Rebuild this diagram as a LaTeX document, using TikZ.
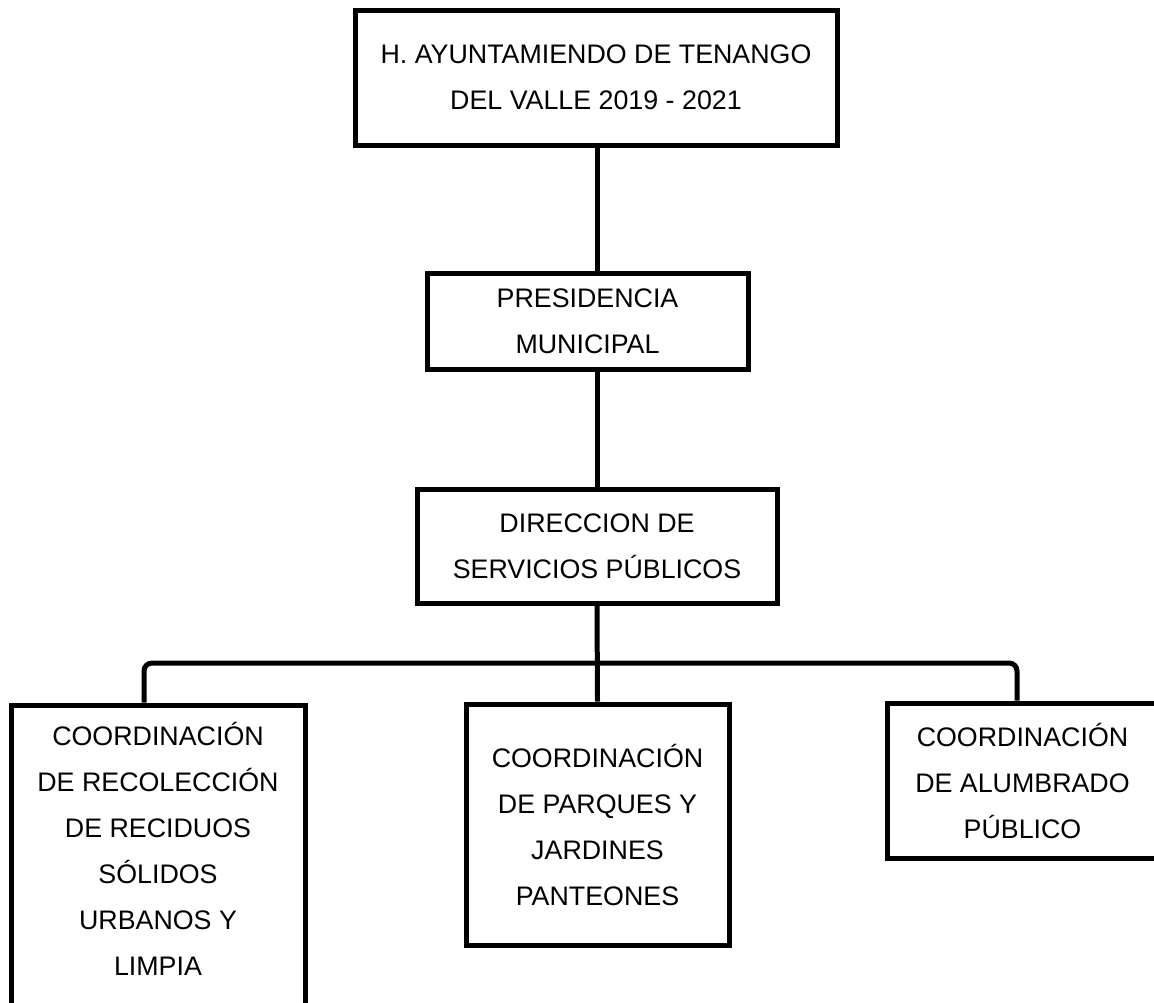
\documentclass[tikz,border=0pt]{standalone}
\usepackage{fontspec}
\setmainfont{Liberation Sans}
\begin{document}
\begin{tikzpicture}[x=1pt, y=-1pt,
		orgbox/.style={draw, line width=5pt, align=center, inner sep=0pt,
			font=\fontsize{26.8}{46}\selectfont},
		link/.style={line width=5pt}]
		\useasboundingbox (0, 0) rectangle (1154, 1002);

		\node[orgbox, minimum width=482, minimum height=135] (ayto) at(596, 77.5)
			{H. AYUNTAMIENDO DE TENANGO\\DEL VALLE 2019 - 2021};
		\node[orgbox, minimum width=321, minimum height=96] (pres) at(587.5, 321)
			{PRESIDENCIA\\MUNICIPAL};
		\node[orgbox, minimum width=360, minimum height=114] (dir) at(597, 546)
			{DIRECCION DE\\SERVICIOS PÚBLICOS};

		\node[orgbox, minimum width=294, minimum height=307] (recol) at(158, 858.5)
			{COORDINACIÓN\\DE RECOLECCIÓN\\DE RECIDUOS\\SÓLIDOS\\URBANOS Y\\LIMPIA\rule[-20pt]{0pt}{0pt}};
		\node[orgbox, minimum width=263, minimum height=241] (parq) at(597.5, 824.5)
			{COORDINACIÓN\\DE PARQUES Y\\JARDINES\\PANTEONES};
		\node[orgbox, minimum width=271, minimum height=155] (alum) at(1022.5, 780.5)
			{COORDINACIÓN\\DE ALUMBRADO\\PÚBLICO};

		\coordinate (split) at(597, 663);

		\draw[link] ([xshift=1]ayto.south) to ([xshift=1]ayto.south |- pres.north);
		\draw[link] (dir.south |- pres.south) to (dir.north);
		\draw[link] (dir.south) to (parq.north);
		\draw[link, rounded corners=8pt] ([xshift=-14]recol.north) |- (split) -| ([xshift=-5.5]alum.north);
	\end{tikzpicture}
\end{document}
